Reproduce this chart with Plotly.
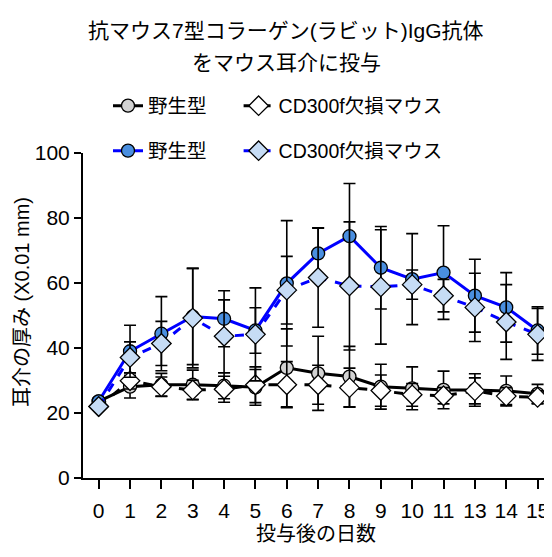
import plotly.graph_objects as go

days = ["0", "1", "2", "3", "4", "5", "6", "7", "8", "9", "10", "11", "13", "14", "15"]

# black group (control)
wt_black = [23.6, 28.1, 28.7, 28.7, 28.4, 27.9, 33.9, 32.2, 31.2, 28.1, 27.6, 27.1, 27.1, 26.8, 25.9]
wt_black_err = [1.0, 3.5, 3.5, 4.5, 4.0, 5.5, 12.0, 11.4, 9.3, 6.9, 6.6, 5.8, 5.0, 4.6, 2.9]
ko_black = [22.0, 29.9, 28.1, 27.1, 27.3, 28.7, 28.7, 28.7, 27.8, 26.9, 25.6, 25.3, 26.8, 25.2, 24.8]
ko_black_err = [1.0, 2.5, 3.0, 3.0, 4.0, 5.5, 7.1, 6.0, 6.0, 4.8, 3.5, 2.5, 4.0, 2.6, 2.0]

# blue group
wt_blue = [23.6, 39.0, 44.4, 49.7, 49.0, 45.4, 59.9, 69.1, 74.4, 64.7, 61.2, 63.2, 56.1, 52.5, 45.4]
wt_blue_err = [1.0, 8.0, 11.4, 14.8, 8.6, 7.0, 19.3, 7.8, 16.2, 12.7, 14.0, 14.4, 11.2, 10.7, 7.3]
ko_blue = [22.0, 37.1, 41.4, 49.2, 43.6, 44.2, 57.8, 61.7, 59.1, 58.8, 59.5, 56.1, 52.5, 48.0, 44.2]
ko_blue_err = [1.0, 4.8, 6.8, 15.3, 11.2, 14.3, 10.4, 15.3, 19.7, 17.6, 4.5, 5.0, 10.5, 11.5, 8.0]

name_wt = "野生型"
name_ko = "CD300f欠損マウス"
title_lines = ["抗マウス7型コラーゲン(ラビット)IgG抗体", "をマウス耳介に投与"]
x_title = "投与後の日数"
y_title = "耳介の厚み (X0.01 mm)"
y_ticks = [0, 20, 40, 60, 80, 100]

FONT = "Liberation Sans, Noto Sans CJK JP, sans-serif"
PAD = "\u00a0" * 5  # spacing between the two legend entries of a row

# the page body has an 8px margin; the figure is placed at (8, 8) in the window
OFF = 8
W, H = 544, 541
L, T, B, R = 75, 144.5, 70.5, 0
PW, PH = W - L - R, H - T - B


def px_x(page_x):
    return (page_x - OFF - L) / PW


def px_y(page_y):
    return (T + PH - (page_y - OFF)) / PH


def err(vals):
    return dict(type="data", array=vals, visible=True, color="black", thickness=1.6, width=6)


fig = go.Figure()
fig.add_trace(go.Scatter(
    x=days, y=wt_black, name=name_wt + PAD, mode="lines+markers", legend="legend",
    line=dict(color="black", width=3),
    marker=dict(symbol="circle", size=13, color="#d2d2d2", line=dict(color="black", width=1.3)),
    error_y=err(wt_black_err)))
fig.add_trace(go.Scatter(
    x=days, y=ko_black, name=name_ko, mode="lines+markers", legend="legend",
    line=dict(color="black", width=3, dash="dash"),
    marker=dict(symbol="diamond", size=15, color="white", line=dict(color="black", width=1.3)),
    error_y=err(ko_black_err)))
fig.add_trace(go.Scatter(
    x=days, y=wt_blue, name=name_wt + PAD, mode="lines+markers", legend="legend2",
    line=dict(color="#0000ff", width=3),
    marker=dict(symbol="circle", size=13, color="#4a8fe0", line=dict(color="black", width=1.3)),
    error_y=err(wt_blue_err)))
fig.add_trace(go.Scatter(
    x=days, y=ko_blue, name=name_ko, mode="lines+markers", legend="legend2",
    line=dict(color="#0000ff", width=3, dash="dash"),
    marker=dict(symbol="diamond", size=15, color="#c6dcf5", line=dict(color="black", width=1.3)),
    error_y=err(ko_blue_err)))

leg_common = dict(orientation="h", xref="container", yref="container", xanchor="left",
                  yanchor="middle", x=100 / W,
                  font=dict(family=FONT, size=19.5, color="black"), bgcolor="rgba(0,0,0,0)",
                  traceorder="normal")

fig.update_layout(
    width=W, height=H,
    margin=dict(l=L, r=R, t=T, b=B, autoexpand=False),
    paper_bgcolor="white", plot_bgcolor="white",
    font=dict(family=FONT, size=18, color="black"),
    showlegend=True,
    legend=dict(**leg_common, y=1 - (106 - OFF) / H),
    legend2=dict(**leg_common, y=1 - (151 - OFF) / H),
    xaxis=dict(type="category", range=[-0.5, 14.46], showline=True, linecolor="black", linewidth=2,
               ticks="outside", ticklen=9, tickwidth=1.5, tickcolor="black",
               showgrid=False, zeroline=False, ticklabelstandoff=4,
               tickfont=dict(family=FONT, size=21)),
    yaxis=dict(range=[0, 100], tickvals=y_ticks, showline=True, linecolor="black", linewidth=2,
               ticks="outside", ticklen=7, tickwidth=1.5, tickcolor="black",
               showgrid=False, zeroline=False,
               tickfont=dict(family=FONT, size=21)),
)

for line_text, ypx in zip(title_lines, [30, 62]):
    fig.add_annotation(text=line_text, xref="paper", yref="paper", x=px_x(286), y=px_y(ypx),
                       yanchor="middle", showarrow=False, font=dict(family=FONT, size=21))

# axis titles
fig.add_annotation(text=x_title, xref="paper", yref="paper", x=px_x(316), y=px_y(535),
                   yanchor="middle", showarrow=False, font=dict(family=FONT, size=20))
fig.add_annotation(text=y_title, xref="paper", yref="paper", x=px_x(22), y=px_y(302),
                   textangle=-90, xanchor="center", yanchor="middle", showarrow=False,
                   font=dict(family=FONT, size=20))

fig.write_html("out.html")
